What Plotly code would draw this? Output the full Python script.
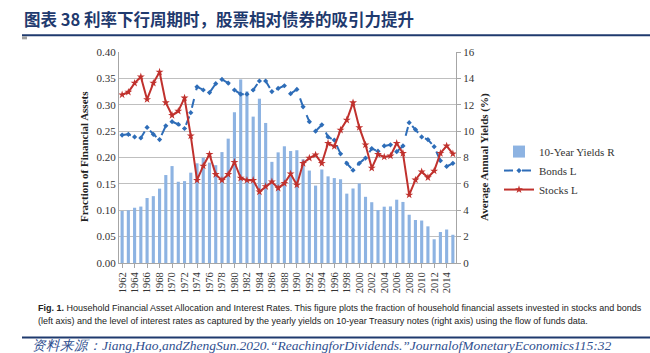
import plotly.graph_objects as go

years = list(range(1962, 2016))
yields_10y = [3.95, 4.00, 4.19, 4.28, 4.93, 5.07, 5.64, 6.67, 7.35, 6.16,
              6.21, 6.85, 7.56, 7.99, 7.61, 7.42, 8.41, 9.43, 11.43, 13.92,
              13.01, 11.10, 12.46, 10.62, 7.67, 8.39, 8.85, 8.49, 8.55, 7.86,
              7.01, 5.87, 7.09, 6.57, 6.44, 6.35, 5.26, 5.65, 6.03, 5.02,
              4.61, 4.01, 4.27, 4.29, 4.80, 4.63, 3.66, 3.26, 3.22, 2.78,
              1.80, 2.35, 2.54, 2.14]
bonds = [0.2425, 0.244, 0.239, 0.237, 0.257, 0.244, 0.234, 0.260, 0.268, 0.263,
         0.255, 0.285, 0.334, 0.328, 0.323, 0.340, 0.348, 0.341, 0.328, 0.320,
         0.320, 0.328, 0.345, 0.345, 0.325, 0.331, 0.336, 0.321, 0.329, 0.296,
         0.268, 0.250, 0.262, 0.239, 0.233, 0.207, 0.189, 0.176, 0.189, 0.199,
         0.217, 0.212, 0.222, 0.224, 0.211, 0.222, 0.266, 0.253, 0.239, 0.234,
         0.2205, 0.194, 0.183, 0.189]
stocks = [0.319, 0.324, 0.341, 0.353, 0.310, 0.341, 0.362, 0.304, 0.280, 0.288,
          0.313, 0.241, 0.157, 0.184, 0.206, 0.168, 0.157, 0.168, 0.191, 0.161,
          0.157, 0.157, 0.135, 0.145, 0.154, 0.142, 0.151, 0.169, 0.148, 0.189,
          0.199, 0.205, 0.189, 0.227, 0.221, 0.252, 0.271, 0.304, 0.257, 0.224,
          0.180, 0.206, 0.201, 0.203, 0.227, 0.208, 0.129, 0.1575, 0.173, 0.162,
          0.1745, 0.208, 0.222, 0.207]
tick_years = list(range(1962, 2015, 2))

W, H = 650, 353
L, R, T, B = 119, 456, 51.7, 263.3


def px(x):
    return (x - L) / (R - L)


def py(y):
    return (B - y) / (B - T)


serif = "Liberation Serif"
fig = go.Figure()
fig.add_trace(go.Bar(x=years, y=yields_10y, name="10-Year Yields R",
                     marker=dict(color="#8DB3E2", line=dict(width=0)),
                     yaxis="y"))
fig.add_trace(go.Scatter(x=years, y=bonds, name="Bonds L", mode="lines+markers",
                         line=dict(color="#2E6DB8", width=2, dash="dash"),
                         marker=dict(symbol="diamond", size=4, color="#2E6DB8"),
                         yaxis="y2"))
fig.add_trace(go.Scatter(x=years, y=stocks, name="Stocks L", mode="lines+markers",
                         line=dict(color="#C0312D", width=2),
                         marker=dict(symbol="star", size=6, color="#C0312D"),
                         yaxis="y2"))

fig.update_layout(
    width=W, height=H,
    margin=dict(l=L, r=W - R, t=T, b=H - B),
    paper_bgcolor="white", plot_bgcolor="white",
    bargap=0.5,
    showlegend=True,
    legend=dict(x=px(499), y=py(137), xanchor="left", yanchor="top",
                font=dict(family=serif, size=11, color="#333"),
                tracegroupgap=0, itemwidth=30, bgcolor="rgba(0,0,0,0)"),
    xaxis=dict(range=[1961.5, 2015.5], tickmode="array", tickvals=tick_years,
               ticktext=[str(y) for y in tick_years], tickangle=-90,
               tickfont=dict(family=serif, size=10.5, color="#333"),
               showgrid=False, showline=True, linecolor="#A6A6A6",
               ticks="outside", ticklen=4, tickcolor="#A6A6A6", zeroline=False),
    yaxis=dict(range=[0, 16], dtick=2, side="right",
               tickfont=dict(family=serif, size=11, color="#333"),
               showgrid=True, gridcolor="#BFBFBF", gridwidth=1,
               showline=True, linecolor="#A6A6A6", ticks="outside", ticklen=4,
               tickcolor="#A6A6A6", zeroline=False),
    yaxis2=dict(range=[0, 0.4], dtick=0.05, tickformat=".2f", side="left",
                overlaying="y",
                tickfont=dict(family=serif, size=11, color="#333"),
                showgrid=False, showline=True, linecolor="#A6A6A6",
                ticks="", zeroline=False),
)

ann = []
ann.append(dict(text="<b>Fraction of Financial Assets</b>", textangle=-90,
                x=px(84), y=py(157), xref="paper", yref="paper",
                xanchor="center", yanchor="middle",
                showarrow=False, font=dict(family=serif, size=11, color="#222")))
ann.append(dict(text="<b>Average Annual Yields (%)</b>", textangle=-90,
                x=px(484), y=py(157), xref="paper", yref="paper",
                xanchor="center", yanchor="middle",
                showarrow=False, font=dict(family=serif, size=11, color="#222")))
ann.append(dict(text="<b>图表 38 利率下行周期时，股票相对债券的吸引力提升</b>",
                x=px(22), y=py(19), xref="paper", yref="paper", xanchor="left",
                yanchor="middle", showarrow=False,
                font=dict(family="Noto Sans CJK SC", size=16.5, color="#1F3A6E")))
cap_font = dict(family="Liberation Sans Narrow, Liberation Sans", size=9, color="#222")
ann.append(dict(text="<b>Fig. 1.</b> Household Financial Asset Allocation and Interest Rates. This figure plots the fraction of household financial assets invested in stocks and bonds",
                x=px(36), y=py(308), xref="paper", yref="paper", xanchor="left",
                yanchor="middle", showarrow=False, font=cap_font))
ann.append(dict(text="(left axis) and the level of interest rates as captured by the yearly yields on 10-year Treasury notes (right axis) using the flow of funds data.",
                x=px(36), y=py(321), xref="paper", yref="paper", xanchor="left",
                yanchor="middle", showarrow=False, font=cap_font))
ann.append(dict(text="<i>资料来源：Jiang,Hao,andZhengSun.2020.“ReachingforDividends.”JournalofMonetaryEconomics115:32</i>",
                x=px(30), y=py(346), xref="paper", yref="paper", xanchor="left",
                yanchor="middle", showarrow=False,
                font=dict(family=serif, size=13.5, color="#2F4F8F")))
fig.update_layout(annotations=ann)

fig.add_shape(type="line", xref="paper", yref="paper", x0=px(22), x1=px(650),
              y0=py(35), y1=py(35), line=dict(color="#1F3A6E", width=2))
fig.add_shape(type="rect", xref="paper", yref="paper", x0=px(22), x1=px(27),
              y0=py(36), y1=py(39), line=dict(width=0), fillcolor="#A0A0A0")
fig.add_shape(type="line", xref="paper", yref="paper", x0=px(22), x1=px(650),
              y0=py(338), y1=py(338), line=dict(color="#1F3A6E", width=2))

fig.write_html("out.html")
